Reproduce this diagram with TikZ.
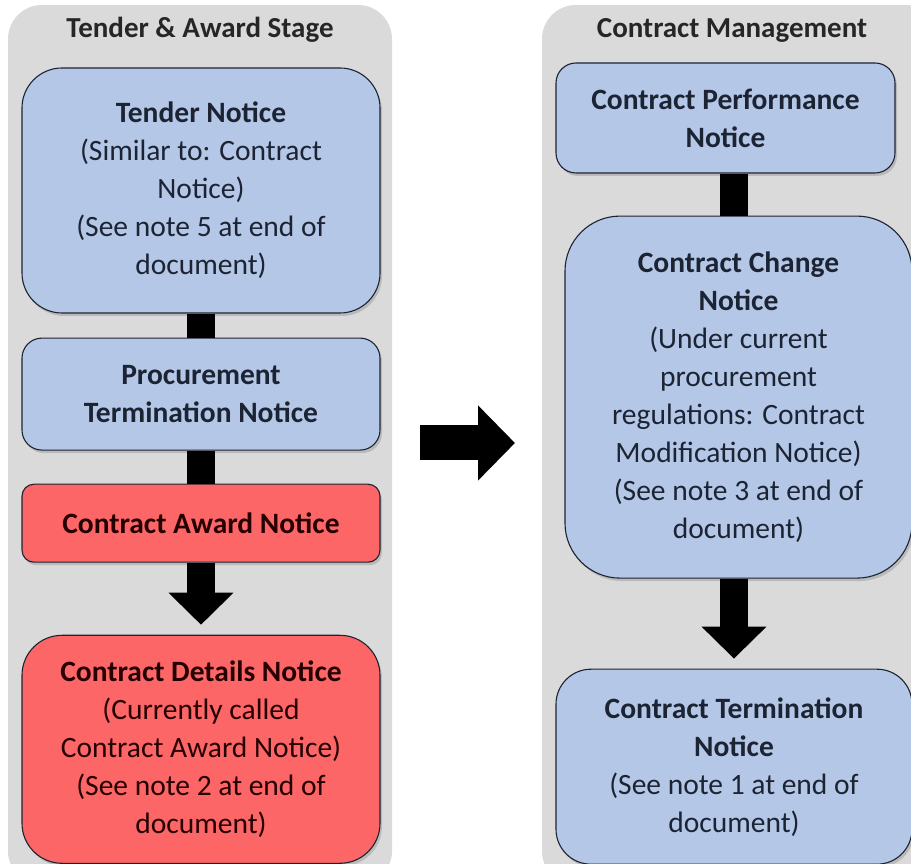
\documentclass[tikz,border=0pt]{standalone}
\usepackage{fontspec}
\setmainfont{Carlito}
\usetikzlibrary{arrows.meta,positioning,shadows}

\definecolor{boxblue}{RGB}{180,199,231}
\definecolor{boxred}{RGB}{252,102,102}
\definecolor{panelgray}{RGB}{218,218,218}
\definecolor{edgedark}{RGB}{28,36,52}

\begin{document}
\begin{tikzpicture}[x=1pt,y=1pt,
  notice/.style={draw=edgedark,line width=1.1pt,align=center,text=edgedark,
    font=\fontsize{29.5}{38}\selectfont,inner sep=0pt,
    drop shadow={shadow xshift=2pt,shadow yshift=-3pt,opacity=0.35}},
  blue notice/.style={notice,fill=boxblue},
  red notice/.style={notice,fill=boxred,text=black!85!red},
  panel/.style={fill=panelgray,rounded corners=34pt,inner sep=0pt},
  stage title/.style={font=\bfseries\fontsize{29}{32}\selectfont,text=black!85},
  link/.style={line width=28pt},
  big arrow/.style={line width=28pt,-{Triangle[width=63pt,length=32pt]}}]

 \clip (0,0) rectangle (911,863);
 \fill[white] (0,0) rectangle (911,863);

 % the two stages
 \node[panel,minimum width=384pt,minimum height=880pt] (stageL) at (200,418) {};
 \node[panel,minimum width=398pt,minimum height=880pt] (stageR) at (741,418) {};
 \node[stage title] (titleL) at (200,833) {Tender \& Award Stage};
 \node[stage title] (titleR) at (732,833) {Contract Management};

 % tender & award
 \node[blue notice,rounded corners=40pt,minimum width=358pt,minimum height=245pt] (tender) at (201,672.5)
   {\textbf{Tender Notice}\\(Similar to: Contract\\Notice)\\(See note 5 at end of\\document)};
 \node[blue notice,rounded corners=20pt,minimum width=358pt,minimum height=112pt,below=24pt of tender] (proc)
   {\textbf{Procurement}\\\textbf{Termination Notice}};
 \node[red notice,rounded corners=12pt,minimum width=358pt,minimum height=78pt,below=33pt of proc] (award)
   {\textbf{Contract Award Notice}};
 \node[red notice,rounded corners=40pt,minimum width=358pt,minimum height=228pt,below=72pt of award] (details)
   {\textbf{Contract Details Notice}\\(Currently called\\Contract Award Notice)\\(See note 2 at end of\\document)};

 % contract management
 \node[blue notice,rounded corners=20pt,minimum width=339pt,minimum height=110pt] (perf) at (725.5,745)
   {\textbf{Contract Performance}\\\textbf{Notice}};
 \node[blue notice,rounded corners=55pt,minimum width=347pt,minimum height=362pt,below=42pt of perf,xshift=13pt] (change)
   {\textbf{Contract Change}\\\textbf{Notice}\\(Under current\\procurement\\regulations: Contract\\Modification Notice)\\(See note 3 at end of\\document)};
 \node[blue notice,rounded corners=35pt,minimum width=356pt,minimum height=195pt,below=90pt of change,xshift=-4.5pt] (term)
   {\textbf{Contract Termination}\\\textbf{Notice}\\(See note 1 at end of\\document)};

 \draw[link] (tender) -- (proc);
 \draw[link] (proc) -- (award);
 \draw[big arrow,shorten >=10pt] (award) -- (details);

 \draw[link] (term.north |- perf.south) -- (term.north |- change.north);
 \draw[big arrow,shorten >=10pt] (term.north |- change.south) -- (term.north);

 % from one stage to the next
 \coordinate (handover) at (420,420);
 \coordinate (handto) at (515,420);
 \draw[line width=35pt,-{Triangle[width=73pt,length=37pt]}] (handover) -- (handto);

\end{tikzpicture}
\end{document}
